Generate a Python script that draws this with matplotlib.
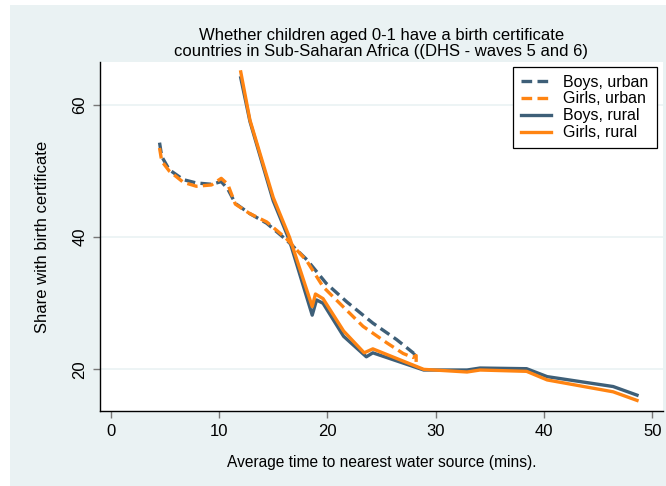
import matplotlib
matplotlib.use("Agg")
import matplotlib.pyplot as plt
from matplotlib.patches import Rectangle

plt.rcParams['font.family'] = ['Liberation Sans', 'DejaVu Sans']

# Data
boys_urban_x = [4.5, 4.7, 5.4, 6.7, 7.9, 9.3, 10.2, 10.8, 11.5, 12.8, 14.4, 16.2, 18.1, 19.9, 21.8, 24.2, 26.4, 28.0, 28.1]
boys_urban_y = [54.3, 52.2, 50.2, 48.7, 48.2, 48.0, 48.4, 47.3, 45.1, 43.6, 42.1, 39.6, 36.6, 33.0, 30.2, 27.0, 24.5, 22.4, 23.0]
girls_urban_x = [4.5, 4.7, 5.4, 6.7, 7.9, 9.3, 10.2, 10.8, 11.5, 12.8, 14.4, 16.2, 18.1, 19.6, 21.5, 23.3, 25.5, 27.0, 27.9, 28.2, 28.2]
girls_urban_y = [53.5, 51.5, 50.0, 48.3, 47.7, 47.9, 48.9, 48.0, 45.0, 43.6, 42.3, 39.8, 36.4, 32.5, 29.4, 26.5, 24.0, 22.4, 21.8, 22.1, 21.0]
boys_rural_x = [12.0, 12.85, 15.0, 16.5, 18.6, 19.0, 19.6, 21.5, 23.6, 24.2, 28.9, 32.9, 34.1, 38.4, 40.3, 46.4, 48.6]
boys_rural_y = [64.1, 57.5, 45.5, 39.5, 28.2, 30.5, 30.0, 25.0, 21.9, 22.5, 19.9, 19.9, 20.2, 20.1, 18.9, 17.4, 16.1]
girls_rural_x = [12.0, 12.85, 15.0, 16.5, 18.6, 18.9, 19.6, 21.5, 23.4, 24.2, 28.9, 32.9, 34.1, 38.4, 40.3, 46.4, 48.6]
girls_rural_y = [65.0, 57.7, 46.0, 40.0, 29.5, 31.4, 30.7, 25.8, 22.5, 23.1, 20.0, 19.6, 19.9, 19.7, 18.4, 16.6, 15.3]

x_ticks = [0, 10, 20, 30, 40, 50]
y_ticks = [20, 40, 60]
labels = ["Boys, urban", "Girls, urban", "Boys, rural", "Girls, rural"]

blue = "#3e5f78"
orange = "#ff8412"
bg = "#eaf2f3"

fig = plt.figure(figsize=(6.66, 4.86), dpi=100)
fig.patch.set_facecolor(bg)
fig.patches.append(Rectangle((0, 0), 10 / 666, 1, transform=fig.transFigure,
                             facecolor="white", edgecolor="none", zorder=-10))
fig.patches.append(Rectangle((0, 1 - 5 / 486), 1, 5 / 486, transform=fig.transFigure,
                             facecolor="white", edgecolor="none", zorder=-10))

ax = fig.add_axes([100 / 666, 75 / 486, 563 / 666, 349 / 486])
ax.set_facecolor("white")

dash = (0, (3.2, 1.6))
lw = 2.4
ax.plot(boys_urban_x, boys_urban_y, color=blue, lw=lw, linestyle=dash, label=labels[0], zorder=3)
ax.plot(girls_urban_x, girls_urban_y, color=orange, lw=lw, linestyle=dash, label=labels[1], zorder=4)
ax.plot(boys_rural_x, boys_rural_y, color=blue, lw=lw, label=labels[2], zorder=3)
ax.plot(girls_rural_x, girls_rural_y, color=orange, lw=lw, label=labels[3], zorder=4)

ax.set_xlim(-1, 51)
ax.set_ylim(13.7, 66.5)
ax.set_xticks(x_ticks)
ax.set_yticks(y_ticks)
ax.set_yticklabels([str(v) for v in y_ticks], rotation=90, va="center")
ax.grid(axis="y", color=bg, lw=1.2, zorder=0)
ax.set_axisbelow(True)
for s in ["top", "right"]:
    ax.spines[s].set_visible(False)
for s in ["left", "bottom"]:
    ax.spines[s].set_color("black")
    ax.spines[s].set_linewidth(1.0)
ax.tick_params(axis="both", direction="out", length=5, width=1, color="#777777",
               labelsize=12, labelcolor="black", pad=4)

ax.set_xlabel("Average time to nearest water source (mins).", fontsize=11.2, labelpad=12)
ax.set_ylabel("Share with birth certificate", fontsize=12, labelpad=16)
ax.set_title("Whether children aged 0-1 have a birth certificate\n"
             "countries in Sub-Saharan Africa ((DHS - waves 5 and 6)",
             fontsize=12, linespacing=1.08, pad=4)

leg = ax.legend(loc="upper right", bbox_to_anchor=(0.9885, 0.987), fontsize=11.5,
                frameon=True, fancybox=False, edgecolor="black", framealpha=1,
                handlelength=1.9, handletextpad=0.75, borderpad=0.5,
                labelspacing=0.12, borderaxespad=0)
leg.get_frame().set_linewidth(0.9)

fig.savefig("out.png", dpi=100, facecolor=fig.get_facecolor())
